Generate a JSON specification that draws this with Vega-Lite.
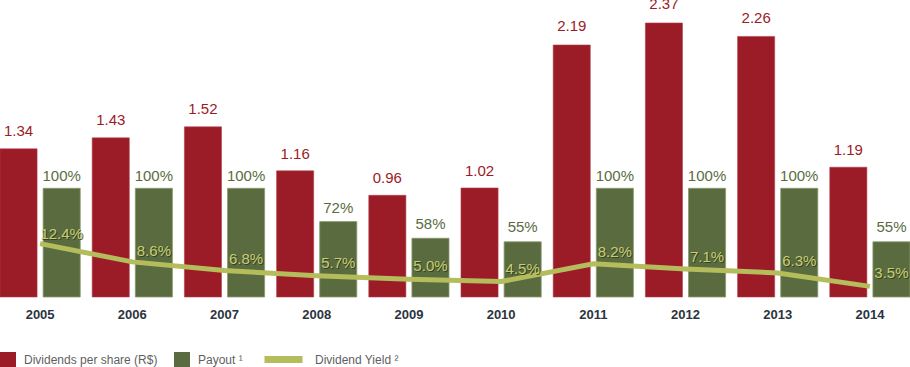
{
  "$schema": "https://vega.github.io/schema/vega-lite/v6.json",
  "width": 910,
  "height": 297,
  "padding": {"left": 0, "top": 0, "right": 0, "bottom": 70},
  "autosize": {"type": "none"},
  "background": "white",
  "config": {
    "view": {"stroke": null},
    "font": "Liberation Sans",
    "text": {"font": "Liberation Sans"},
    "legend": {"labelFont": "Liberation Sans"}
  },
  "datasets": {
    "dps": [
      {"year": "2005", "value": 1.34}, {"year": "2006", "value": 1.43},
      {"year": "2007", "value": 1.52}, {"year": "2008", "value": 1.16},
      {"year": "2009", "value": 0.96}, {"year": "2010", "value": 1.02},
      {"year": "2011", "value": 2.19}, {"year": "2012", "value": 2.37},
      {"year": "2013", "value": 2.26}, {"year": "2014", "value": 1.19}
    ],
    "payout": [
      {"year": "2005", "value": 1.0}, {"year": "2006", "value": 1.0},
      {"year": "2007", "value": 1.0}, {"year": "2008", "value": 0.72},
      {"year": "2009", "value": 0.58}, {"year": "2010", "value": 0.55},
      {"year": "2011", "value": 1.0}, {"year": "2012", "value": 1.0},
      {"year": "2013", "value": 1.0}, {"year": "2014", "value": 0.55}
    ],
    "yield": [
      {"year": "2005", "value": 0.124}, {"year": "2006", "value": 0.086},
      {"year": "2007", "value": 0.068}, {"year": "2008", "value": 0.057},
      {"year": "2009", "value": 0.05}, {"year": "2010", "value": 0.045},
      {"year": "2011", "value": 0.082}, {"year": "2012", "value": 0.071},
      {"year": "2013", "value": 0.063}, {"year": "2014", "value": 0.035}
    ]
  },
  "encoding": {
    "x": {
      "field": "year", "type": "nominal",
      "scale": {"paddingInner": 0.13, "paddingOuter": 0},
      "axis": {
        "title": null, "domain": false, "ticks": false, "labelAngle": 0,
        "labelPadding": 11, "labelFontSize": 13, "labelFontWeight": "bold",
        "labelColor": "#2b3440", "labelFont": "Liberation Sans"
      }
    }
  },
  "layer": [
    {
      "data": {"name": "dps"},
      "mark": {"type": "bar", "stroke": "#b0404a", "strokeWidth": 0.6},
      "encoding": {
        "xOffset": {"datum": "Dividends per share (R$)", "scale": {"domain": ["Dividends per share (R$)", "Payout ¹"], "paddingInner": 0.14, "paddingOuter": 0}},
        "y": {"field": "value", "type": "quantitative", "scale": {"domain": [0.128, 2.558], "zero": false, "nice": false, "clamp": true}, "axis": null},
        "fill": {
          "datum": "Dividends per share (R$)",
          "scale": {"domain": ["Dividends per share (R$)", "Payout ¹"], "range": ["#9b1b27", "#5a6c3f"]},
          "legend": {
            "title": null, "orient": "none", "legendX": 0, "legendY": 352,
            "direction": "horizontal", "symbolType": "square", "symbolSize": 256,
            "symbolStrokeWidth": 0, "labelFontSize": 12, "labelColor": "#5f5f5f",
            "labelOffset": 8, "columnPadding": 16, "padding": 0, "labelFont": "Liberation Sans"
          }
        }
      }
    },
    {
      "data": {"name": "dps"},
      "mark": {"type": "text", "baseline": "middle", "fontSize": 15, "color": "#9b1b27"},
      "encoding": {
        "xOffset": {"datum": "Dividends per share (R$)", "scale": {"domain": ["Dividends per share (R$)", "Payout ¹"], "paddingInner": 0.14, "paddingOuter": 0}},
        "y": {"field": "value", "type": "quantitative", "scale": {"domain": [0, 2.403], "zero": false, "nice": false}, "axis": null},
        "text": {"field": "value", "type": "quantitative", "format": ".2f"}
      }
    },
    {
      "data": {"name": "payout"},
      "mark": {"type": "bar", "stroke": "#8a9a6a", "strokeWidth": 0.8},
      "encoding": {
        "xOffset": {"datum": "Payout ¹", "scale": {"domain": ["Dividends per share (R$)", "Payout ¹"], "paddingInner": 0.14, "paddingOuter": 0}},
        "y": {"field": "value", "type": "quantitative", "scale": {"domain": [0.0858, 2.584], "zero": false, "nice": false, "clamp": true}, "axis": null},
        "fill": {"datum": "Payout ¹"}
      }
    },
    {
      "data": {"name": "payout"},
      "mark": {"type": "text", "baseline": "middle", "fontSize": 15, "color": "#5a6c3f"},
      "encoding": {
        "xOffset": {"datum": "Payout ¹", "scale": {"domain": ["Dividends per share (R$)", "Payout ¹"], "paddingInner": 0.14, "paddingOuter": 0}},
        "y": {"field": "value", "type": "quantitative", "scale": {"domain": [-0.0577, 2.538], "zero": false, "nice": false}, "axis": null},
        "text": {"field": "value", "type": "quantitative", "format": ".0%"}
      }
    },
    {
      "data": {"name": "yield"},
      "mark": {"type": "line", "strokeWidth": 5, "strokeCap": "butt"},
      "encoding": {
        "y": {"field": "value", "type": "quantitative", "scale": {"domain": [0.01283, 0.6316], "zero": false, "nice": false}, "axis": null},
        "stroke": {
          "datum": "Dividend Yield ²",
          "scale": {"domain": ["Dividend Yield ²"], "range": ["#b4bc5c"]},
          "legend": {
            "title": null, "orient": "none", "legendX": 261, "legendY": 348,
            "direction": "horizontal", "symbolType": "M-1,0H3.75", "symbolSize": 256,
            "symbolStrokeWidth": 7, "labelFontSize": 12, "labelColor": "#5f5f5f",
            "labelOffset": 31, "padding": 0, "labelFont": "Liberation Sans"
          }
        }
      }
    },
    {
      "data": {"name": "yield"},
      "mark": {"type": "text", "baseline": "middle", "fontSize": 15, "color": "#2e3a22", "opacity": 0.85, "dx": 1, "dy": 1},
      "encoding": {
        "xOffset": {"datum": "Payout ¹", "scale": {"domain": ["Dividends per share (R$)", "Payout ¹"], "paddingInner": 0.14, "paddingOuter": 0}},
        "y": {"field": "value", "type": "quantitative", "scale": {"domain": [-0.0206, 0.6637], "zero": false, "nice": false}, "axis": null},
        "text": {"field": "value", "type": "quantitative", "format": ".1%"}
      }
    },
    {
      "data": {"name": "yield"},
      "mark": {"type": "text", "baseline": "middle", "fontSize": 15, "color": "#c9cd72"},
      "encoding": {
        "xOffset": {"datum": "Payout ¹", "scale": {"domain": ["Dividends per share (R$)", "Payout ¹"], "paddingInner": 0.14, "paddingOuter": 0}},
        "y": {"field": "value", "type": "quantitative", "scale": {"domain": [-0.0206, 0.6637], "zero": false, "nice": false}, "axis": null},
        "text": {"field": "value", "type": "quantitative", "format": ".1%"}
      }
    }
  ],
  "resolve": {"scale": {"y": "independent"}}
}
